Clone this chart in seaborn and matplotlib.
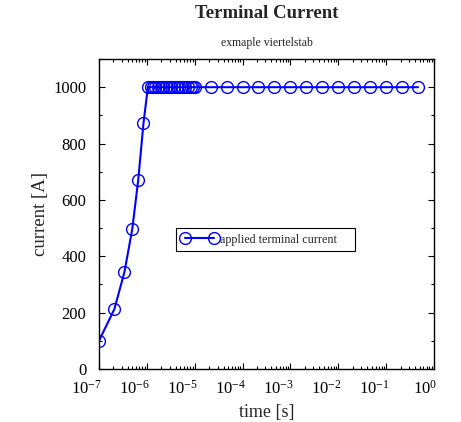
import matplotlib
matplotlib.use("Agg")
import matplotlib.pyplot as plt
import matplotlib.ticker as mticker
import matplotlib.transforms as mtransforms
import seaborn as sns
import pandas as pd

# data
time_s = [1e-7, 2.1e-7, 3.4e-7, 4.95e-7, 6.6e-7, 8.5e-7,
          1.05e-6, 1.2e-6, 1.35e-6, 1.5e-6, 1.7e-6, 1.95e-6, 2.2e-6, 2.5e-6,
          2.85e-6, 3.25e-6, 3.7e-6, 4.2e-6, 4.8e-6, 5.5e-6, 6.3e-6, 7.2e-6,
          8.3e-6, 9.2e-6, 1e-5,
          2.15e-5, 4.64e-5, 1e-4, 2.15e-4, 4.64e-4, 1e-3, 2.15e-3, 4.64e-3,
          1e-2, 2.15e-2, 4.64e-2, 0.1, 0.215, 0.464]
current_A = [100, 213, 344, 496, 670, 872] + [1000] * 33
series_name = "applied terminal current"
title = "Terminal Current"
subtitle = "exmaple viertelstab"
xtick_exps = [-7, -6, -5, -4, -3, -2, -1, 0]
yticks = [0, 200, 400, 600, 800, 1000]

df = pd.DataFrame({"time": time_s, "current": current_A, "series": series_name})

sns.set_style("ticks")
plt.rcParams["font.family"] = ["Liberation Serif", "DejaVu Serif"]
plt.rcParams["mathtext.fontset"] = "custom"
plt.rcParams["mathtext.rm"] = "Liberation Serif"
plt.rcParams["mathtext.it"] = "Liberation Serif:italic"
plt.rcParams["mathtext.bf"] = "Liberation Serif:bold"

fig = plt.figure(figsize=(4.61, 4.22), dpi=100)
ax = fig.add_axes([99 / 461, 1 - 369 / 422, 335 / 461, 310 / 422])

sns.lineplot(data=df, x="time", y="current", hue="series", palette=["#0000ff"],
             marker="o", markersize=8.5, markerfacecolor="none",
             markeredgecolor="#0000ff", markeredgewidth=1.0,
             linewidth=1.5, ax=ax, legend=True)

ax.set_xscale("log")
ax.set_xlim(1e-7, 1)
ax.set_ylim(0, 1100)
ax.set_xticks([10.0 ** e for e in xtick_exps])
ax.set_xticklabels([r"$10^{%d}$" % e for e in xtick_exps])
ax.xaxis.set_minor_locator(mticker.LogLocator(base=10, subs=range(2, 10), numticks=20))
ax.xaxis.set_minor_formatter(mticker.NullFormatter())
ax.set_yticks(yticks)
ax.yaxis.set_minor_locator(mticker.MultipleLocator(100))

for s in ax.spines.values():
    s.set_visible(True)
    s.set_linewidth(1.0)
    s.set_color("black")
ax.tick_params(which="both", direction="in", top=True, right=True,
               labelsize=12, colors="black", width=0.8)
ax.tick_params(which="major", length=4)
ax.tick_params(axis="y", which="major", pad=9)
ax.tick_params(axis="x", which="major", pad=8)
ax.tick_params(which="minor", length=2.5)

offset = mtransforms.ScaledTranslation(3 / 100, 0, fig.dpi_scale_trans)
for lab in ax.get_xticklabels():
    lab.set_ha("right")
    lab.set_transform(lab.get_transform() + offset)

ax.set_xlabel("time [s]", fontsize=13, labelpad=4)
ax.set_ylabel("current [A]", fontsize=13.5, labelpad=3)

fig.text(0.5 * (99 + 434) / 461, 1 - 14 / 422, title, ha="center", va="center",
         fontsize=13.5, fontweight="bold")
fig.text(0.5 * (99 + 434) / 461, 1 - 43 / 422, subtitle, ha="center", va="center",
         fontsize=8.5)

handles, labels = ax.get_legend_handles_labels()
leg = ax.legend(handles, [series_name + "    "], loc="lower left",
                bbox_to_anchor=((176 - 99) / 335, (369 - 251) / 310),
                borderaxespad=0, frameon=True, fancybox=False, framealpha=1,
                edgecolor="black", fontsize=8.75, handlelength=3.0,
                numpoints=2, borderpad=0.45, handletextpad=0.2)
leg.get_frame().set_linewidth(0.8)

fig.savefig("out.png", dpi=100)
